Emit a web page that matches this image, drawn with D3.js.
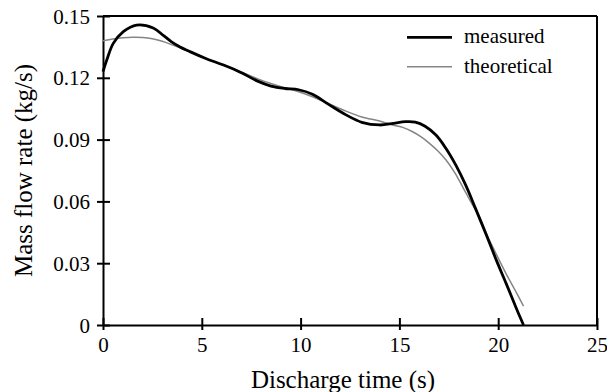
<!DOCTYPE html>
<html>
<head>
<meta charset="utf-8">
<script src="https://cdn.jsdelivr.net/npm/d3@7"></script>
<style>
  html, body { margin: 0; padding: 0; background: #fff; }
  svg { display: block; }
</style>
</head>
<body>
<svg id="chart" width="607" height="392"></svg>
<script>
// Discharge time (s) and mass flow rate (kg/s)
const measuredTime = [0, 0.19, 0.52, 1.03, 1.7, 2.54, 3.05, 3.45, 3.9, 4.4, 5.2, 6.1, 7.0, 7.8, 8.5, 9.2, 9.9, 10.6, 11.4, 12.3, 13.1, 14.0, 14.7, 15.3, 15.8, 16.3, 16.85, 17.35, 17.85, 18.35, 18.85, 19.4, 19.9, 20.4, 20.9, 21.28];
const measuredFlow = [0.123, 0.1286, 0.1367, 0.1424, 0.1456, 0.1442, 0.1406, 0.1376, 0.1350, 0.1327, 0.1294, 0.1262, 0.1225, 0.1185, 0.116, 0.1148, 0.1142, 0.112, 0.1072, 0.102, 0.0984, 0.0971, 0.0979, 0.0987, 0.0985, 0.0965, 0.0922, 0.0858, 0.0777, 0.068, 0.0566, 0.0437, 0.0316, 0.0202, 0.0085, 0.0];

const theoreticalTime = [0, 0.5, 1.0, 1.5, 2.0, 2.5, 3.0, 3.5, 4.4, 5.2, 6.1, 7.0, 7.8, 8.5, 9.2, 9.9, 10.6, 11.4, 12.3, 13.1, 14.0, 14.66, 15.2, 15.67, 16.1, 16.52, 16.95, 17.36, 17.8, 18.2, 18.6, 19.04, 19.55, 20.0, 20.39, 20.85, 21.28];
const theoreticalFlow = [0.138, 0.1388, 0.1394, 0.1397, 0.1396, 0.139, 0.1377, 0.136, 0.1327, 0.1294, 0.1262, 0.1228, 0.1196, 0.1172, 0.1152, 0.1132, 0.1108, 0.1075, 0.1038, 0.101, 0.099, 0.0971, 0.0958, 0.0938, 0.0913, 0.0882, 0.0845, 0.0801, 0.074, 0.0671, 0.06, 0.0526, 0.0413, 0.0325, 0.0251, 0.017, 0.0092];

const xTicks = [0, 5, 10, 15, 20, 25];
const yTicks = [0, 0.03, 0.06, 0.09, 0.12, 0.15];
const yTickLabels = ["0", "0.03", "0.06", "0.09", "0.12", "0.15"];

const seriesNames = ["measured", "theoretical"];
const seriesColors = ["#000000", "#858585"];
const seriesWidths = [2.8, 1.5];

const serifFont = "'Liberation Serif', 'Times New Roman', Times, Tinos, 'DejaVu Serif', serif";
const plot = { left: 103, right: 597, top: 16, bottom: 325 };

const svg = d3.select("#chart");

const x = d3.scaleLinear().domain([0, 25]).range([plot.left, plot.right]);
const y = d3.scaleLinear().domain([0, 0.15]).range([plot.bottom, plot.top]);

// Frame: top and right edges
svg.append("line")
  .attr("x1", plot.left).attr("x2", plot.right)
  .attr("y1", plot.top).attr("y2", plot.top)
  .attr("stroke", "#000").attr("stroke-width", 2);
svg.append("line")
  .attr("x1", plot.right).attr("x2", plot.right)
  .attr("y1", plot.top).attr("y2", plot.bottom)
  .attr("stroke", "#000").attr("stroke-width", 2);

// Bottom axis, ticks crossing the axis line
const xAxis = svg.append("g")
  .attr("transform", `translate(0,${plot.bottom})`)
  .call(d3.axisBottom(x).tickValues(xTicks).tickSize(0).tickFormat(d3.format("d")));
xAxis.attr("font-family", null).attr("font-size", null);
xAxis.select(".domain").attr("stroke", "#000").attr("stroke-width", 2);
xAxis.selectAll(".tick line").attr("y1", -7).attr("y2", 5).attr("stroke", "#000").attr("stroke-width", 2);
xAxis.selectAll(".tick text")
  .attr("y", 27).attr("dy", null);

// Left axis, ticks crossing the axis line
const yAxis = svg.append("g")
  .attr("transform", `translate(${plot.left},0)`)
  .call(d3.axisLeft(y).tickValues(yTicks).tickSize(0).tickFormat((d, i) => yTickLabels[i]));
yAxis.attr("font-family", null).attr("font-size", null);
yAxis.select(".domain").attr("stroke", "#000").attr("stroke-width", 2);
yAxis.selectAll(".tick line").attr("x1", -6).attr("x2", 7).attr("stroke", "#000").attr("stroke-width", 2);
yAxis.selectAll(".tick text")
  .attr("x", -13).attr("dy", "0.34em");

svg.selectAll(".domain").attr("fill", "none");
svg.selectAll(".tick text")
  .attr("fill", "#000")
  .attr("font-family", serifFont)
  .attr("font-size", 21);

// Axis titles
svg.append("text")
  .attr("x", 343).attr("y", 388)
  .attr("text-anchor", "middle")
  .attr("font-family", serifFont)
  .attr("font-size", 25)
  .text("Discharge time (s)");
svg.append("text")
  .attr("transform", "translate(32,170.5) rotate(-90)")
  .attr("text-anchor", "middle")
  .attr("font-family", serifFont)
  .attr("font-size", 25)
  .text("Mass flow rate (kg/s)");

// Curves
const line = d3.line()
  .x(d => x(d[0]))
  .y(d => y(d[1]))
  .curve(d3.curveCatmullRom.alpha(0.5));

const series = [
  d3.zip(measuredTime, measuredFlow),
  d3.zip(theoreticalTime, theoreticalFlow)
];
// theoretical underneath, measured on top
[1, 0].forEach(i => {
  svg.append("path")
    .datum(series[i])
    .attr("d", line)
    .attr("fill", "none")
    .attr("stroke", seriesColors[i])
    .attr("stroke-width", seriesWidths[i])
    .attr("stroke-linejoin", "round")
    .attr("stroke-linecap", "butt");
});

// Legend
const legend = svg.append("g");
seriesNames.forEach((name, i) => {
  const ly = 37.3 + i * 29.4;
  legend.append("line")
    .attr("x1", 407).attr("x2", 452)
    .attr("y1", ly).attr("y2", ly)
    .attr("stroke", seriesColors[i])
    .attr("stroke-width", seriesWidths[i]);
  legend.append("text")
    .attr("x", 464).attr("y", ly + 6)
    .attr("font-family", serifFont)
    .attr("font-size", 21)
    .text(name);
});
</script>
</body>
</html>
